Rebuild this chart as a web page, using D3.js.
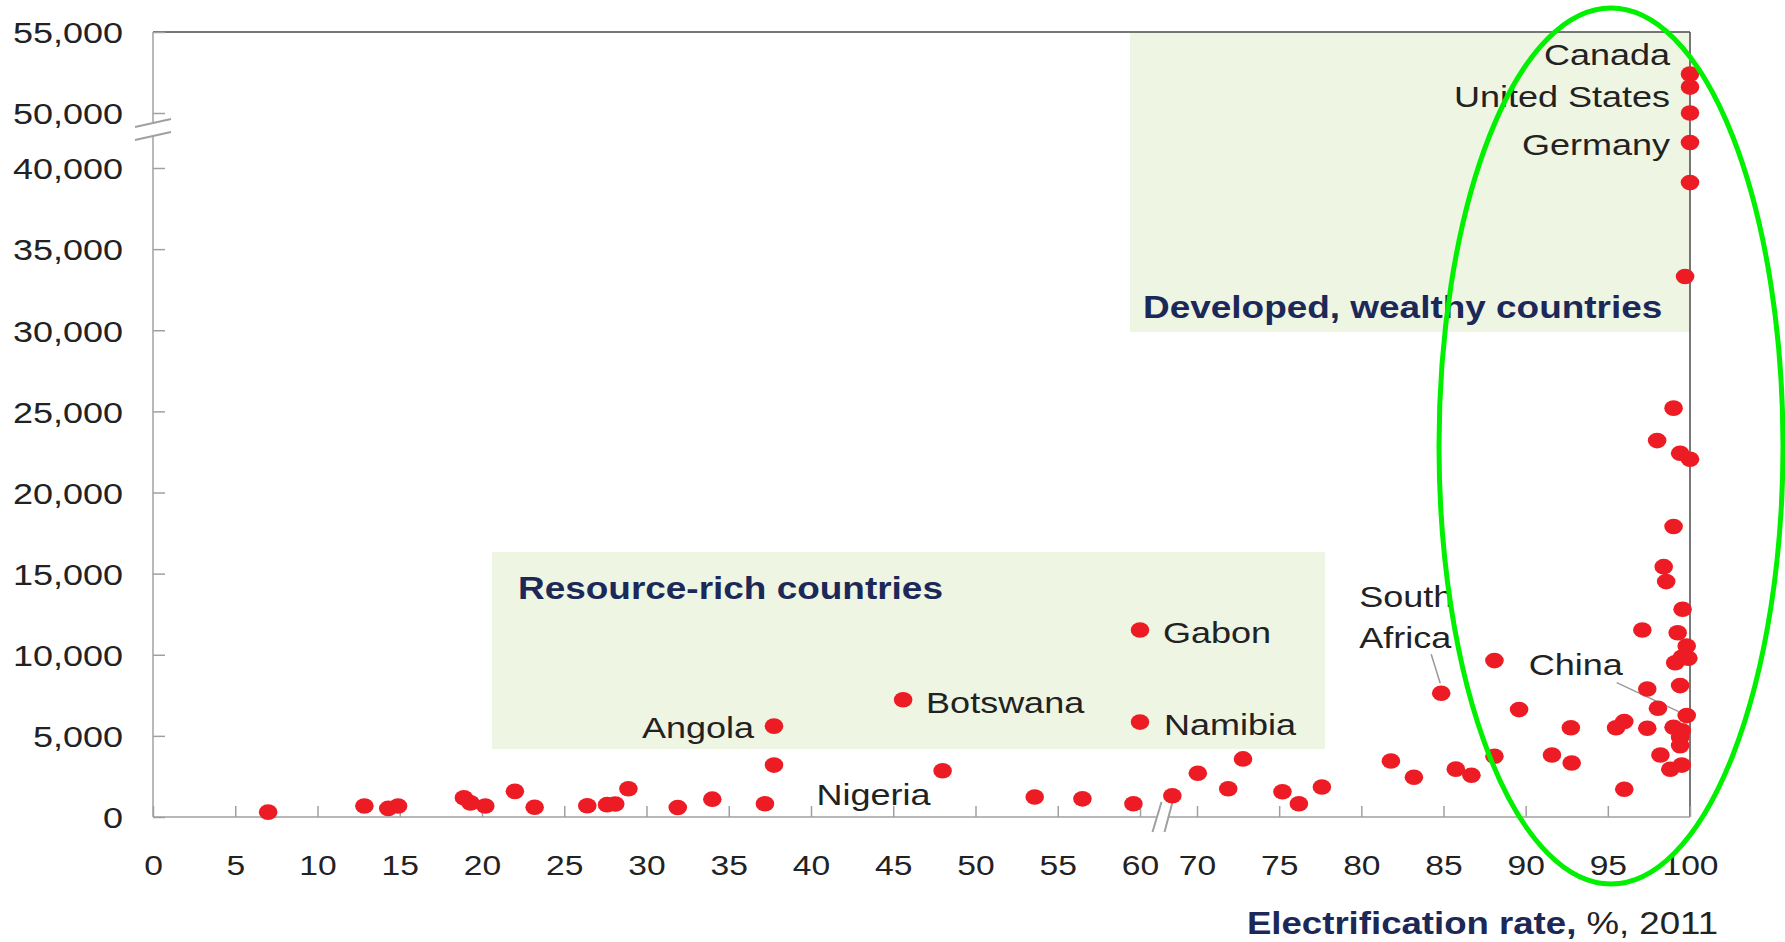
<!DOCTYPE html>
<html><head><meta charset="utf-8">
<script src="https://cdn.jsdelivr.net/npm/d3@7"></script>
<style>
body{margin:0;background:#fff}
svg{display:block}
text{font-family:"Liberation Sans",Arial,Helvetica,sans-serif}
</style>
</head><body>
<script>
// ---------------- DATA ----------------
const rate = [7.0, 12.85, 14.3, 14.9, 18.9, 19.3, 20.2, 22.0, 23.2, 26.4, 27.6, 28.1, 28.9, 31.9, 34.0, 37.2, 37.75, 37.75, 45.6, 48.0, 53.6, 56.5, 59.6, 60.0, 60.0,
  68.5, 70.05, 71.9, 72.8, 75.2, 76.2, 77.6, 81.8, 83.2, 84.86, 85.75, 86.7, 88.1, 88.1, 89.6, 91.6, 92.75, 92.8, 95.5, 96.0, 96.0, 97.1, 97.4, 97.4, 98.05, 98.2, 98.0, 98.4, 98.55, 98.8, 99.0, 99.0, 99.0, 99.1, 99.25, 99.4, 99.4, 99.4, 99.4, 99.5, 99.5, 99.5, 99.55, 99.8, 99.8, 99.9, 100, 99.7, 100, 100, 100, 100, 100];
const gdp = [300, 680, 530, 680, 1190, 870, 680, 1580, 600, 690, 760, 800, 1740, 590, 1100, 820, 3200, 5600, 7230, 2850, 1230, 1120, 820, 5850, 11530,
  1310, 2700, 1740, 3580, 1560, 820, 1850, 3450, 2450, 7630, 2950, 2570, 3740, 9640, 6620, 3820, 5500, 3330, 5500, 5880, 1710, 11530, 5470, 7890, 6700, 3820, 23200, 15430, 14510, 2940, 25200, 17900, 5530, 9510, 11360, 22420, 8100, 4900, 4400, 5320, 3200, 9850, 12800, 10540, 6250, 9780, 22050, 33310, 39100, 41570, 50000, 51600, 52400];

const xTicksLeft = [0, 5, 10, 15, 20, 25, 30, 35, 40, 45, 50, 55, 60];
const xTicksRight = [70, 75, 80, 85, 90, 95, 100];
const yTicksLow = [0, 5000, 10000, 15000, 20000, 25000, 30000, 35000, 40000];
const yTicksHigh = [50000, 55000];

const labelNames = ["Canada", "United States", "Germany", "Gabon", "Botswana", "Namibia", "Angola", "Nigeria", "China", "South Africa"];
const labelRate = [100, 100, 100, 60.0, 45.6, 60.0, 37.75, 48.0, 99.8, 84.86];
const labelGdp = [52400, 51600, 41570, 11530, 7230, 5850, 5600, 2850, 6250, 7630];

const groupTitles = ["Developed, wealthy countries", "Resource-rich countries"];
const xTitleBold = "Electrification rate,";
const xTitleNormal = " %, 2011";

// ---------------- LAYOUT ----------------
const W = 1785, H = 942, SX = 1.2;
const svg = d3.select("body").append("svg").attr("width", W).attr("height", H);

const xL = d3.scaleLinear().domain([0, 60]).range([153, 1140]);
const xR = d3.scaleLinear().domain([70, 100]).range([1197, 1690]);
const yL = d3.scaleLinear().domain([0, 40000]).range([817, 168]);
const yH = d3.scaleLinear().domain([50000, 55000]).range([113, 32]);
const X = v => v < 65 ? xL(v) : xR(v);
const Y = v => v >= 45000 ? yH(v) : yL(v);

const pLeft = xL.range()[0], pRight = xR.range()[1], pBottom = yL.range()[0], pTop = yH.range()[1];
const navy = "#1c2857", axisGray = "#a0a0a0", frame = "#4a4a4a", txt = "#222";

// green shaded regions
svg.append("rect").attr("x", 1130).attr("y", pTop).attr("width", pRight - 1130).attr("height", 332 - pTop).attr("fill", "#eef5e3");
svg.append("rect").attr("x", 492).attr("y", 552).attr("width", 1325 - 492).attr("height", 749 - 552).attr("fill", "#eef5e3");

// frame top/right
svg.append("line").attr("x1", pLeft).attr("x2", pRight).attr("y1", pTop).attr("y2", pTop).attr("stroke", frame).attr("stroke-width", 1.5);
svg.append("line").attr("x1", pRight).attr("x2", pRight).attr("y1", pTop).attr("y2", pBottom).attr("stroke", frame).attr("stroke-width", 1.5);
// axis lines
svg.append("line").attr("x1", pLeft).attr("x2", pLeft).attr("y1", pTop).attr("y2", pBottom).attr("stroke", axisGray).attr("stroke-width", 1.5);
svg.append("line").attr("x1", pLeft).attr("x2", pRight).attr("y1", pBottom).attr("y2", pBottom).attr("stroke", axisGray).attr("stroke-width", 1.5);

function styleAxis(g, fs) {
  g.attr("font-size", fs).attr("font-family", null).attr("color", txt);
  g.select(".domain").remove();
  g.selectAll(".tick line").attr("stroke", axisGray).attr("stroke-width", 1.5);
}
function leftAxis(scale, ticks) {
  const g = svg.append("g").attr("transform", `translate(${pLeft},0)`)
    .call(d3.axisLeft(scale).tickValues(ticks).tickSize(-12).tickFormat(d3.format(",")));
  styleAxis(g, 30);
  g.selectAll(".tick text").attr("x", null).attr("dy", "0.36em")
    .attr("transform", `translate(-30,0) scale(${SX},1)`);
}
function bottomAxis(scale, ticks) {
  const g = svg.append("g").attr("transform", `translate(0,${pBottom})`)
    .call(d3.axisBottom(scale).tickValues(ticks).tickSize(-11));
  styleAxis(g, 28);
  g.selectAll(".tick text").attr("y", null).attr("dy", null)
    .attr("transform", `translate(0,58) scale(${SX},1)`);
}
leftAxis(yL, yTicksLow);
leftAxis(yH, yTicksHigh);
bottomAxis(xL, xTicksLeft);
bottomAxis(xR, xTicksRight);

// axis breaks
const by = yH(50000);
svg.append("polygon").attr("points", `${pLeft-18},${by+13} ${pLeft+18},${by+6} ${pLeft+18},${by+18} ${pLeft-18},${by+27}`).attr("fill", "#fff");
svg.append("line").attr("x1", pLeft - 18).attr("y1", by + 14).attr("x2", pLeft + 18).attr("y2", by + 6).attr("stroke", axisGray).attr("stroke-width", 2);
svg.append("line").attr("x1", pLeft - 18).attr("y1", by + 27).attr("x2", pLeft + 18).attr("y2", by + 19).attr("stroke", axisGray).attr("stroke-width", 2);
const bx = (xL(60) + xR(70)) / 2 - 12;
svg.append("polygon").attr("points", `${bx+5},${pBottom-15} ${bx+16},${pBottom-15} ${bx+8},${pBottom+15} ${bx-4},${pBottom+15}`).attr("fill", "#fff");
svg.append("line").attr("x1", bx + 5).attr("y1", pBottom - 15).attr("x2", bx - 4).attr("y2", pBottom + 15).attr("stroke", axisGray).attr("stroke-width", 2);
svg.append("line").attr("x1", bx + 16).attr("y1", pBottom - 15).attr("x2", bx + 8).attr("y2", pBottom + 15).attr("stroke", axisGray).attr("stroke-width", 2);

// text helper (source chart is horizontally stretched)
function stext(x, y, s, anchor, fs, weight, fill) {
  return svg.append("text").attr("transform", `translate(${x},${y}) scale(${SX},1)`)
    .attr("text-anchor", anchor).attr("font-size", fs).attr("font-weight", weight).attr("fill", fill).text(s);
}
stext(1143, 318, groupTitles[0], "start", 30.8, "bold", navy);
stext(518, 599, groupTitles[1], "start", 30.8, "bold", navy);

// x title
const xt = svg.append("text").attr("transform", `translate(1718,934) scale(${SX},1)`).attr("text-anchor", "end").attr("font-size", 30.5);
xt.append("tspan").attr("font-weight", "bold").attr("fill", navy).text(xTitleBold);
xt.append("tspan").attr("fill", txt).text(xTitleNormal);

// leader lines
const li = n => labelNames.indexOf(n);
const cx = X(labelRate[li("China")]), cy = Y(labelGdp[li("China")]);
svg.append("line").attr("x1", cx - 70).attr("y1", cy - 33).attr("x2", cx - 8).attr("y2", cy - 4).attr("stroke", "#999").attr("stroke-width", 1.5);
const sx = X(labelRate[li("South Africa")]), sy = Y(labelGdp[li("South Africa")]);
svg.append("line").attr("x1", sx - 10).attr("y1", sy - 39).attr("x2", sx - 1).attr("y2", sy - 10).attr("stroke", "#999").attr("stroke-width", 1.5);

// dots
svg.append("g").selectAll("ellipse").data(rate.map((r, i) => [r, gdp[i]])).join("ellipse")
  .attr("cx", d => X(d[0])).attr("cy", d => Y(d[1])).attr("rx", 9.3).attr("ry", 7.8).attr("fill", "#ed1c24");

// country labels (offsets relative to their points)
const place = {
  "Canada": [-20, -9, "end"], "United States": [-20, 20, "end"], "Germany": [-20, 12.5, "end"],
  "Gabon": [23, 13, "start"], "Botswana": [23, 13, "start"], "Namibia": [24, 13, "start"],
  "Angola": [-20, 12, "end"], "Nigeria": [-69, 34, "middle"], "China": [-158, -41, "start"]
};
labelNames.forEach((n, i) => {
  const px = X(labelRate[i]), py = Y(labelGdp[i]);
  if (n === "South Africa") {
    stext(px - 82, py - 86, "South", "start", 30, "normal", txt);
    stext(px - 82, py - 45, "Africa", "start", 30, "normal", txt);
  } else {
    const p = place[n];
    stext(px + p[0], py + p[1], n, p[2], 30, "normal", txt);
  }
});

// green highlight ellipse
svg.append("ellipse").attr("cx", 1611).attr("cy", 446).attr("rx", 172).attr("ry", 438)
  .attr("fill", "none").attr("stroke", "#00f000").attr("stroke-width", 5);
</script>
</body></html>
